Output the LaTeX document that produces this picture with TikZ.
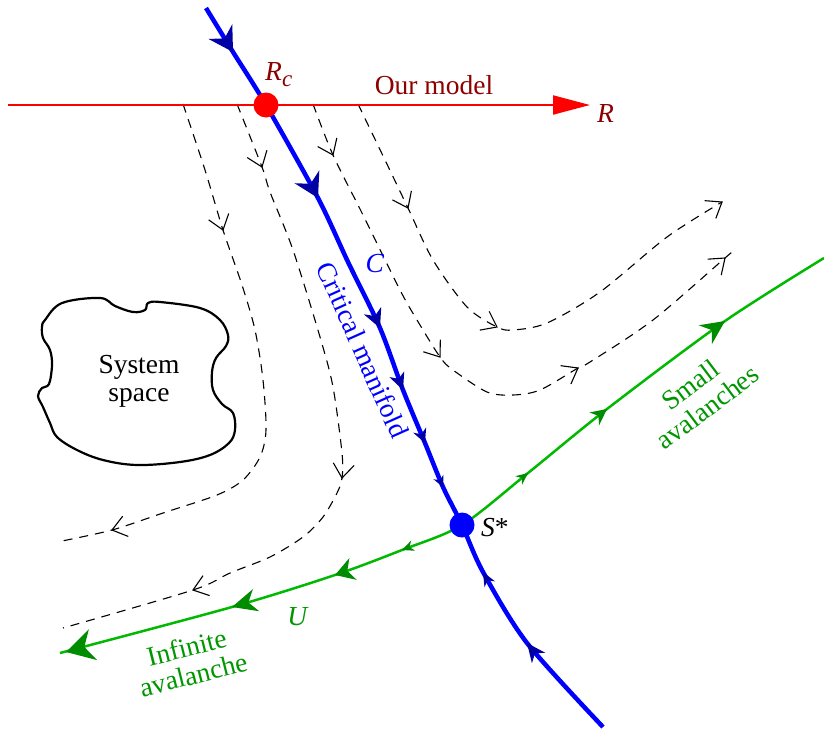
\documentclass[tikz,border=0pt]{standalone}
\usepackage{fontspec}
\setmainfont{Liberation Serif}
\usetikzlibrary{arrows.meta,calc}
\definecolor{bluedark}{RGB}{0,0,165}
\definecolor{gline}{RGB}{0,185,0}
\definecolor{gdark}{RGB}{0,140,0}
\definecolor{gtext}{RGB}{0,150,0}
\definecolor{rtext}{RGB}{140,0,0}
% filled barbed arrowhead: tip, previous point, next point, length, half width, notch depth, colour
\newcommand{\farr}[7]{%
  \coordinate (ht) at (#1);
  \coordinate (ha) at ($(#1)+(#2)-(#3)$);
  \coordinate (hb) at ($(ht)!#4!(ha)$);
  \coordinate (hn) at ($(ht)!#6!(ha)$);
  \fill[#7] (ht) -- ($(hb)!#5!90:(ht)$) -- (hn) -- ($(hb)!#5!-90:(ht)$) -- cycle;}
% open arrowhead for the flow lines: tip, previous point, next point
\newcommand{\oarr}[3]{%
  \coordinate (ht) at (#1);
  \coordinate (ha) at ($(#1)+(#2)-(#3)$);
  \coordinate (hb) at ($(ht)!14pt!(ha)$);
  \draw[oarrow] ($(hb)!10.5pt!90:(ht)$) -- (ht) -- ($(hb)!10.5pt!-90:(ht)$);}
\begin{document}
\begin{tikzpicture}[x=1pt,y=-1pt,
  every node/.style={font=\fontsize{27.5}{28}\selectfont, inner sep=0pt},
  bline/.style={draw=blue,line width=4.5pt},
  gln/.style={draw=gline,line width=2.5pt},
  rln/.style={draw=red,line width=2pt},
  dln/.style={draw=black,line width=1.1pt,dash pattern=on 9pt off 7pt},
  oarrow/.style={draw=black,line width=1.1pt,solid},
  dot/.style={circle,minimum size=25pt,inner sep=0pt,draw=none}]
\useasboundingbox (0,0) rectangle (824,731);

% dashed flow lines
\draw[dln] plot[smooth] coordinates {(183,104) (205,170) (223,230) (242,285) (255,330) (263,380) (266,430) (260,457) (243,480) (217,495) (163,513) (112,530) (57,542)};
\oarr{223,230}{205,170}{242,285}
\oarr{112,530}{163,513}{57,542}
\draw[dln] plot[smooth] coordinates {(237,104) (262,167) (270,192) (293,250) (320,337) (333,387) (342,453) (342,478) (337,493) (323,517) (303,537) (270,557) (230,573) (193,590) (63,628)};
\oarr{262,167}{237,104}{270,192}
\oarr{342,478}{342,453}{337,493}
\oarr{193,590}{230,573}{63,628}
\draw[dln] plot[smooth] coordinates {(313,104) (333,155) (363,215) (400,290) (417,320) (440,357) (453,370) (487,392) (513,395) (540,390) (578,368) (590,362) (653,320) (725,258) (732,252)};
\oarr{333,155}{313,104}{363,215}
\oarr{440,357}{417,320}{453,370}
\oarr{578,368}{540,390}{590,362}
\oarr{725,258}{653,320}{725,258}
\draw[dln] plot[smooth] coordinates {(358,104) (385,160) (408,208) (433,260) (467,307) (497,327) (513,330) (547,323) (600,292) (667,237) (722,202)};
\oarr{408,208}{385,160}{433,260}
\oarr{497,327}{467,307}{513,330}
\oarr{722,202}{667,237}{722,202}

% system space blob
\draw[line width=2.2pt] plot[smooth cycle, tension=0.6] coordinates {(45,320) (62,303) (100,298) (115,306) (133,312) (145,310) (148,303) (160,302) (200,308) (220,320) (228,335) (226,346) (216,358) (212,372) (213,390) (222,404) (233,413) (235,430) (229,443) (210,455) (180,462) (137,465) (103,460) (77,450) (57,437) (50,423) (43,407) (38,396) (42,388) (49,384) (52,365) (50,350) (43,338) (42,327)};
\node[align=center] (sys) at (139,381) {System\\space};

% red axis
\coordinate (Rstart) at (8,105);
\coordinate (Rend) at (590,105);
\node[dot] (Rc) at (266,105) {};
\draw[rln, -{Triangle[length=37pt,width=19pt]}] (Rstart) -- (Rend);

% critical manifold (blue)
\node[dot] (S) at (462,525) {};
\draw[bline] plot[smooth] coordinates {(206,8) (233,52) (Rc.center) (318,198) (348,262) (380,328) (403,390) (425,443) (443,487) (S.center) (483,572) (527,643) (603,727)};
\farr{233,52}{206,8}{266,105}{24pt}{14pt}{16pt}{bluedark}
\farr{318,198}{266,105}{348,262}{24pt}{14pt}{16pt}{bluedark}
\farr{380,328}{348,262}{403,390}{19pt}{9.5pt}{13pt}{bluedark}
\farr{403,390}{380,328}{425,443}{17pt}{8pt}{12pt}{bluedark}
\farr{425,443}{403,390}{443,487}{14pt}{7pt}{9.5pt}{bluedark}
\farr{443,487}{425,443}{462,525}{11pt}{5.5pt}{7.5pt}{bluedark}
\farr{527,643}{603,727}{483,572}{19pt}{8.5pt}{13pt}{bluedark}
\farr{483,572}{527,643}{462,525}{14pt}{6pt}{9.5pt}{bluedark}

% unstable manifold (green)
\draw[gln] plot[smooth] coordinates {(60,653) (232,607) (335,575) (402,550) (S.center) (528,473) (607,409) (725,321) (824,258)};
\farr{402,550}{462,525}{335,575}{12pt}{5.5pt}{8pt}{gdark}
\farr{335,575}{402,550}{232,607}{19pt}{11.5pt}{13pt}{gdark}
\farr{232,607}{335,575}{64,652}{25pt}{11.5pt}{17pt}{gdark}
\farr{66,652}{232,607}{66,652}{28pt}{16pt}{19pt}{gdark}
\farr{528,473}{462,525}{607,409}{12pt}{5.5pt}{8pt}{gdark}
\farr{607,409}{528,473}{725,321}{16pt}{8pt}{11pt}{gdark}
\farr{725,321}{607,409}{824,258}{24pt}{11.5pt}{16pt}{gdark}

% dots on top
\node[dot, fill=red] (Rcdot) at (Rc) {};
\node[dot, fill=blue] (Sdot) at (S) {};

% labels
\node[anchor=base west, text=rtext] (Rclab) at (265,80) {\textit{R}\raisebox{-6pt}{\fontsize{23}{23}\selectfont\textit{c}}};
\node[anchor=base, text=rtext] (model) at (434,94) {Our model};
\node[anchor=base west, text=rtext] (Rlab) at (597,122) {\textit{R}};
\node[anchor=base, text=blue] (Clab) at (375,272) {\textit{C}};
\node[text=blue, rotate=-66] (crit) at (363,350) {Critical manifold};
\node[anchor=base west] (Slab) at (481,536) {\textit{S}*};
\node[anchor=base, text=gtext] (Ulab) at (298,625) {\textit{U}};
\node[align=center, text=gtext, rotate=37] (small) at (699,396) {Small\\avalanches};
\node[align=center, text=gtext, rotate=14] (inf) at (190,661) {Infinite\\avalanche};
\end{tikzpicture}
\end{document}
